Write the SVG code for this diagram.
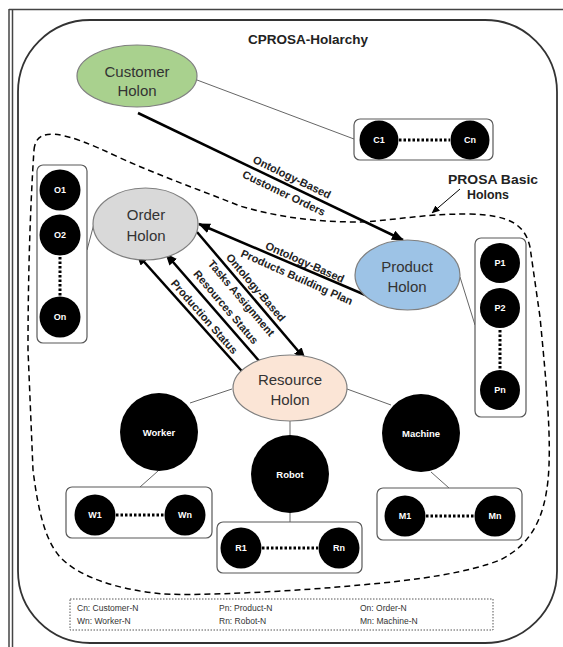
<svg xmlns="http://www.w3.org/2000/svg" width="563" height="647" viewBox="0 0 563 647">
<defs>
<marker id="ah" markerUnits="userSpaceOnUse" markerWidth="12" markerHeight="10" refX="11" refY="5" orient="auto"><path d="M0,0 L12,5 L0,10 z" fill="#000"/></marker>
<marker id="ahs" markerUnits="userSpaceOnUse" markerWidth="8" markerHeight="7" refX="7.5" refY="3.5" orient="auto"><path d="M0,0 L8,3.5 L0,7 z" fill="#000"/></marker>
</defs>
<style>
.frame{fill:none;stroke:#444;stroke-width:1.5}
.holarchy{fill:#fff;stroke:#333;stroke-width:1.8}
.ell{stroke:#7f7f7f;stroke-width:1.2}
.ht{font-family:"Liberation Sans",Arial,sans-serif;font-size:15px;fill:#333;text-anchor:middle}
.box{fill:#fff;stroke:#595959;stroke-width:1.2}
.ci{fill:#000}
.ct{font-family:"Liberation Sans",Arial,sans-serif;font-size:9px;font-weight:bold;fill:#fff;text-anchor:middle}
.bt{font-family:"Liberation Sans",Arial,sans-serif;font-size:9.5px;font-weight:bold;fill:#fff;text-anchor:middle}
.dots{stroke:#000;stroke-width:3;stroke-dasharray:2.5 2;fill:none}
.thin{stroke:#666;stroke-width:1;fill:none}
.arr{stroke:#000;stroke-width:2.5;fill:none;marker-end:url(#ah)}
.lbl{font-family:"Liberation Sans",Arial,sans-serif;font-size:11px;font-weight:bold;fill:#222;text-anchor:middle}
.leg{font-family:"Liberation Sans",Arial,sans-serif;font-size:8.5px;fill:#333}
.bound{fill:none;stroke:#000;stroke-width:1.5;stroke-dasharray:6 4}
.pb{font-family:"Liberation Sans",Arial,sans-serif;font-size:12.5px;font-weight:bold;fill:#222;text-anchor:middle}
</style>

<g id="frame">
<line class="frame" x1="9" y1="9.5" x2="563" y2="9.5"/>
<line class="frame" x1="9" y1="9" x2="9" y2="647"/>
<line class="frame" x1="12.5" y1="9" x2="12.5" y2="647"/>
</g>

<g id="holarchy">
<rect class="holarchy" x="18" y="20" width="539" height="623" rx="72" ry="72"/>
<text x="308" y="43.5" font-family="'Liberation Sans',Arial,sans-serif" font-size="13.5" font-weight="bold" fill="#222" text-anchor="middle">CPROSA-Holarchy</text>
</g>

<g id="prosa-boundary">
<path class="bound" d="M34,150 C36,126 62,130 118,157 C160,176 200,190 240,206 C280,218 320,222 360,222 C400,220 420,214 470,214 C510,215 525,225 530,247 L540,317 C546,380 552,440 548,480 C544,520 530,545 500,560 C470,572 420,580 360,585 C300,591 200,596 163,594 C120,590 80,578 60,557 C45,540 38,510 33,470 L28,350 C28,250 32,180 34,150 Z"/>
<text class="pb" x="493" y="183.5" textLength="90" lengthAdjust="spacingAndGlyphs">PROSA Basic</text>
<text class="pb" x="488" y="198.5" textLength="42" lengthAdjust="spacingAndGlyphs">Holons</text>
</g>

<g id="connectors">
<line class="thin" x1="197" y1="80" x2="354" y2="139"/>
<line class="thin" x1="95" y1="220" x2="87" y2="250"/>
<line class="thin" x1="460" y1="277" x2="475" y2="325"/>
<line class="thin" x1="232" y1="389" x2="190" y2="403"/>
<line class="thin" x1="347" y1="389" x2="391" y2="405"/>
<line class="thin" x1="290" y1="421" x2="290" y2="436"/>
<line class="thin" x1="158" y1="471" x2="140" y2="487"/>
<line class="thin" x1="431" y1="472" x2="449" y2="488"/>
<line class="thin" x1="290" y1="513" x2="290" y2="522"/>
<line x1="460" y1="189" x2="432" y2="213" stroke="#000" stroke-width="1" marker-end="url(#ahs)"/>
<line class="arr" x1="138" y1="113" x2="403" y2="240"/>
<line class="arr" x1="370" y1="297" x2="199" y2="224"/>
<line class="arr" x1="197" y1="232" x2="305" y2="359"/>
<line class="arr" x1="260" y1="362" x2="166" y2="254"/>
<line class="arr" x1="248" y1="378" x2="137" y2="254"/>
<text class="lbl" x="292" y="181" transform="rotate(25.6 292 177)">Ontology-Based</text>
<text class="lbl" x="284" y="197" transform="rotate(25.6 284 193)">Customer Orders</text>
<text class="lbl" x="305" y="266" transform="rotate(23.9 305 262)">Ontology-Based</text>
<text class="lbl" x="297" y="281" transform="rotate(23.9 297 277)">Products Building Plan</text>
<text class="lbl" x="256" y="291.5" transform="rotate(49.6 256 287.5)">Ontology-Based</text>
<text class="lbl" x="241.5" y="302" transform="rotate(49.6 241.5 298)">Tasks Assignment</text>
<text class="lbl" x="226" y="311" transform="rotate(49.5 226 307)">Resources Status</text>
<text class="lbl" x="204.5" y="320.7" transform="rotate(48.7 204.5 316.7)">Production Status</text>
</g>

<g id="customer-holon">
<ellipse class="ell" cx="137" cy="76" rx="60" ry="31" fill="#a9d18e"/>
<text class="ht" x="137" y="77">Customer</text>
<text class="ht" x="137" y="96">Holon</text>
</g>

<g id="customers">
<rect class="box" x="354" y="119" width="139" height="41" rx="6"/>
<line class="dots" x1="399" y1="140" x2="450" y2="140"/>
<circle class="ci" cx="379" cy="140" r="19.5"/>
<circle class="ci" cx="470" cy="140" r="19.5"/>
<text class="ct" x="379" y="143">C1</text>
<text class="ct" x="470" y="143">Cn</text>
</g>

<g id="order-holon">
<ellipse class="ell" cx="145.5" cy="224" rx="52.5" ry="36" fill="#d9d9d9"/>
<text class="ht" x="146" y="220">Order</text>
<text class="ht" x="146" y="241">Holon</text>
</g>

<g id="orders">
<rect class="box" x="37" y="165" width="50" height="178" rx="6"/>
<line class="dots" x1="60" y1="257" x2="60" y2="296"/>
<circle class="ci" cx="60" cy="190" r="20.5"/>
<circle class="ci" cx="60" cy="235" r="20.5"/>
<circle class="ci" cx="60" cy="317" r="20.5"/>
<text class="ct" x="60" y="193">O1</text>
<text class="ct" x="60" y="238">O2</text>
<text class="ct" x="60" y="320">On</text>
</g>

<g id="product-holon">
<ellipse class="ell" cx="407.5" cy="275" rx="52.5" ry="35" fill="#9dc3e6"/>
<text class="ht" x="407" y="272">Product</text>
<text class="ht" x="407" y="292">Holon</text>
</g>

<g id="products">
<rect class="box" x="475" y="238" width="51" height="179" rx="6"/>
<line class="dots" x1="500" y1="330" x2="500" y2="369"/>
<circle class="ci" cx="500" cy="263" r="20"/>
<circle class="ci" cx="500" cy="308" r="20"/>
<circle class="ci" cx="500" cy="390" r="20"/>
<text class="ct" x="500" y="266">P1</text>
<text class="ct" x="500" y="311">P2</text>
<text class="ct" x="500" y="393">Pn</text>
</g>

<g id="resource-holon">
<ellipse class="ell" cx="290" cy="388" rx="57" ry="33" fill="#fbe5d6"/>
<text class="ht" x="290" y="385">Resource</text>
<text class="ht" x="290" y="405">Holon</text>
</g>

<g id="worker">
<circle class="ci" cx="159" cy="432" r="39"/>
<text class="bt" x="159" y="435.5">Worker</text>
</g>
<g id="robot">
<circle class="ci" cx="290" cy="474" r="39"/>
<text class="bt" x="290" y="477.5">Robot</text>
</g>
<g id="machine">
<circle class="ci" cx="421" cy="433" r="39"/>
<text class="bt" x="421" y="436.5">Machine</text>
</g>

<g id="workers">
<rect class="box" x="66" y="487" width="146" height="51" rx="6"/>
<line class="dots" x1="116" y1="515" x2="164" y2="515"/>
<circle class="ci" cx="95" cy="515" r="20.5"/>
<circle class="ci" cx="185" cy="515" r="20.5"/>
<text class="ct" x="95" y="518">W1</text>
<text class="ct" x="185" y="518">Wn</text>
</g>

<g id="robots">
<rect class="box" x="217" y="522" width="145" height="51" rx="6"/>
<line class="dots" x1="262" y1="548" x2="318" y2="548"/>
<circle class="ci" cx="241" cy="548" r="20.5"/>
<circle class="ci" cx="339" cy="548" r="20.5"/>
<text class="ct" x="241" y="551">R1</text>
<text class="ct" x="339" y="551">Rn</text>
</g>

<g id="machines">
<rect class="box" x="377" y="488" width="145" height="52" rx="6"/>
<line class="dots" x1="426" y1="516" x2="474" y2="516"/>
<circle class="ci" cx="405" cy="516" r="20.5"/>
<circle class="ci" cx="495" cy="516" r="20.5"/>
<text class="ct" x="405" y="519">M1</text>
<text class="ct" x="495" y="519">Mn</text>
</g>

<g id="legend">
<rect x="70" y="599" width="423" height="31" fill="#fff" stroke="#555" stroke-width="1" stroke-dasharray="1.5 1.5"/>
<text class="leg" x="77" y="611">Cn: Customer-N</text>
<text class="leg" x="219" y="611">Pn: Product-N</text>
<text class="leg" x="360" y="611">On: Order-N</text>
<text class="leg" x="77" y="623.5">Wn: Worker-N</text>
<text class="leg" x="219" y="623.5">Rn: Robot-N</text>
<text class="leg" x="360" y="623.5">Mn: Machine-N</text>
</g>
</svg>
